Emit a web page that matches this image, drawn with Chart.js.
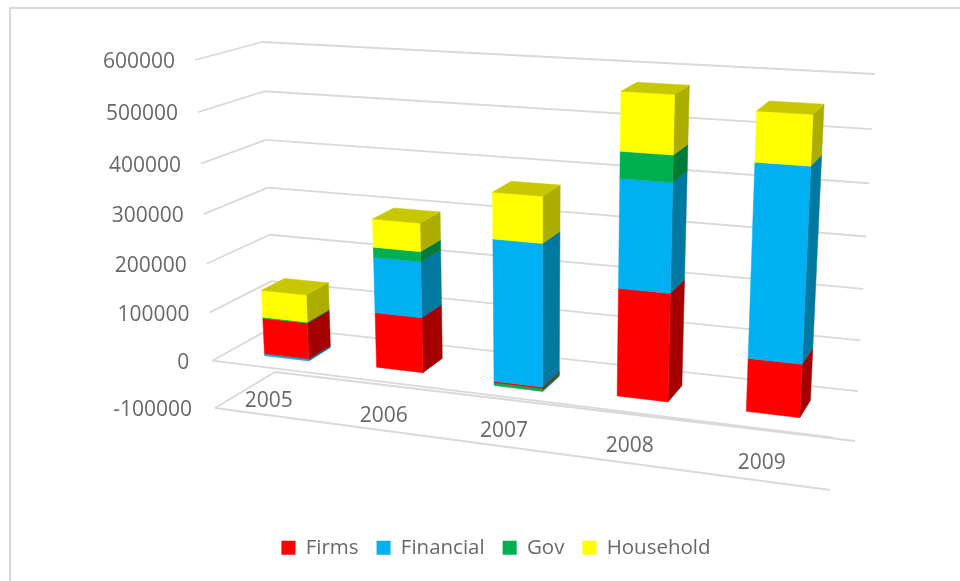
<!DOCTYPE html>
<html><head><meta charset="utf-8">
<style>html,body{margin:0;padding:0;background:#fff}#w{width:960px;height:581px}</style>
<script src="https://cdn.jsdelivr.net/npm/chart.js@4"></script></head>
<body><div id="w"><canvas id="c" width="960" height="581"></canvas></div>
<script>
const categories = ['2005','2006','2007','2008','2009'];
const firms = [75000,112000,-3000,210000,102000];
const financial = [-4000,112000,282000,207000,363000];
const gov = [2000,20000,-6000,50000,0];
const household = [56000,56000,90000,109000,91000];
const yMin = -100000, yMax = 600000, yStep = 100000;

const FONT = '"Open Sans"', INK = '#686868', GRID = '#d9d9d9';
const sideColors = {'#ff0000':'#a50000','#00b0f0':'#00789f','#00b050':'#007a38','#ffff00':'#adad00'};
const topColors = {'#ff0000':'#c40000','#00b0f0':'#0090c4','#00b050':'#009040','#ffff00':'#c8c800'};

function homography(q){
  const [[x0,y0],[x1,y1],[x2,y2],[x3,y3]] = q;
  const dx1=x1-x2,dx2=x3-x2,sx=x0-x1+x2-x3,dy1=y1-y2,dy2=y3-y2,sy=y0-y1+y2-y3;
  const den=dx1*dy2-dx2*dy1, g=(sx*dy2-dx2*sy)/den, h=(dx1*sy-sx*dy1)/den;
  const a=x1-x0+g*x1,b=x3-x0+h*x3,d=y1-y0+g*y1,e=y3-y0+h*y3;
  return (s,t)=>{const k=g*s+h*t+1;return [(a*s+b*t+x0)/k,(d*s+e*t+y0)/k];};
}
// view of the plot box: bottom-left, bottom-right, top-right, top-left
const frontPlane = homography([[215,408],[830,490],[849,100],[195,60]]);
const backPlane = homography([[275,372],[855,441],[875,74],[262,42]]);
function project(u,v,w){const a=frontPlane(u,v),b=backPlane(u,v);return [a[0]+(b[0]-a[0])*w,a[1]+(b[1]-a[1])*w];}
const W0=0.32,W1=0.70;

function poly(ctx,pts,fill){ctx.beginPath();pts.forEach((p,i)=>i?ctx.lineTo(p[0],p[1]):ctx.moveTo(p[0],p[1]));ctx.closePath();ctx.fillStyle=fill;ctx.fill();ctx.strokeStyle=fill;ctx.lineWidth=0.5;ctx.stroke();}
function seg(ctx,a,b){ctx.moveTo(a[0],a[1]);ctx.lineTo(b[0],b[1]);}

const view3d = {
  id:'view3d',
  beforeDraw(chart){
    const ctx=chart.ctx;ctx.save();
    ctx.strokeStyle=GRID;ctx.lineWidth=2;ctx.beginPath();
    ctx.moveTo(10,581);ctx.lineTo(10,8);ctx.lineTo(960,8);ctx.stroke();ctx.restore();
  },
  beforeDatasetsDraw(chart){
    const ctx=chart.ctx,xs=chart.scales.x,ys=chart.scales.y;
    const U=px=>(px-xs.left)/(xs.right-xs.left), V=val=>(val-yMin)/(yMax-yMin);
    const Vpx=px=>V(ys.getValueForPixel(px));
    ctx.save();
    // walls and floors
    ctx.strokeStyle=GRID;ctx.lineWidth=1.8;ctx.beginPath();
    ys.ticks.forEach(t=>{const v=V(t.value);
      seg(ctx,project(0,v,0),project(0,v,1));seg(ctx,project(0,v,1),project(1,v,1));
      if(t.value<=0) seg(ctx,project(0,v,0),project(1,v,0));
    });
    ctx.stroke();
    // value labels
    ctx.fillStyle=INK;ctx.font='21px '+FONT;ctx.textAlign='right';ctx.textBaseline='middle';
    ys.ticks.forEach(t=>{const p=project(0,V(t.value),0);ctx.fillText(String(t.value),p[0]-(t.value<=0?23:20),p[1]+2);});
    // category labels
    ctx.textAlign='center';
    categories.forEach((c,i)=>{const u=U(xs.getPixelForValue(i));const p=project(u,0,0.4);ctx.fillText(c,p[0]-26+16*u,p[1]+1);});
    // stacked boxes
    for(let i=categories.length-1;i>=0;i--){
      const parts=[];
      chart.data.datasets.forEach((ds,di)=>{
        const el=chart.getDatasetMeta(di).data[i];
        if(!el||ds.data[i]===0)return;
        const lo=Math.max(el.y,el.base),hi=Math.min(el.y,el.base);
        parts.push({v0:Vpx(lo),v1:Vpx(hi),u0:U(el.x-el.width/2),u1:U(el.x+el.width/2),color:ds.backgroundColor});
      });
      parts.sort((a,b)=>a.v0-b.v0);
      parts.forEach((p,k)=>{
        poly(ctx,[project(p.u1,p.v0,W0),project(p.u1,p.v0,W1),project(p.u1,p.v1,W1),project(p.u1,p.v1,W0)],sideColors[p.color]);
        poly(ctx,[project(p.u0,p.v0,W0),project(p.u1,p.v0,W0),project(p.u1,p.v1,W0),project(p.u0,p.v1,W0)],p.color);
        if(k===parts.length-1) poly(ctx,[project(p.u0,p.v1,W0),project(p.u1,p.v1,W0),project(p.u1,p.v1,W1),project(p.u0,p.v1,W1)],topColors[p.color]);
      });
    }
    ctx.restore();
    return false;
  }
};

new Chart(document.getElementById('c'),{
  type:'bar',
  data:{labels:categories,datasets:[
    {label:'Firms',data:firms,backgroundColor:'#ff0000'},
    {label:'Financial',data:financial,backgroundColor:'#00b0f0'},
    {label:'Gov',data:gov,backgroundColor:'#00b050'},
    {label:'Household',data:household,backgroundColor:'#ffff00'}
  ]},
  plugins:[view3d],
  options:{
    responsive:false,animation:false,
    layout:{padding:{left:32,right:0,top:60,bottom:13}},
    datasets:{bar:{barPercentage:0.40,categoryPercentage:1,borderWidth:0}},
    plugins:{
      tooltip:{enabled:false},
      legend:{position:'bottom',labels:{boxWidth:14,boxHeight:14,padding:18,color:INK,font:{family:FONT,size:20.5}}}
    },
    scales:{
      x:{stacked:true,display:false},
      y:{stacked:true,min:yMin,max:yMax,ticks:{stepSize:yStep,display:false},grid:{display:false},border:{display:false}}
    }
  }
});
</script></body></html>
